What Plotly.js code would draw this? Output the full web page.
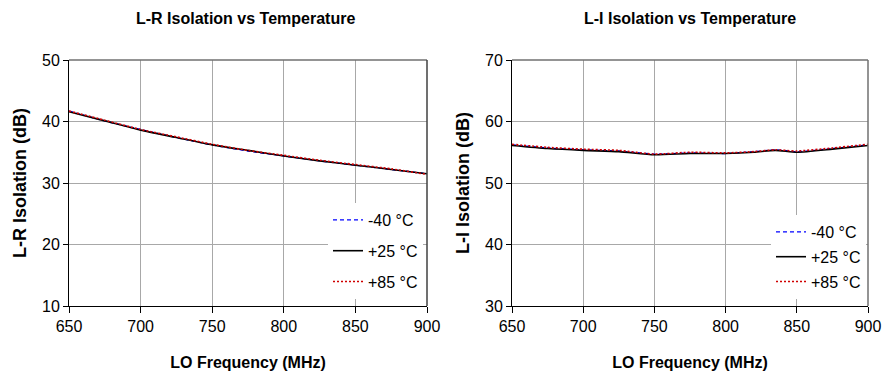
<!DOCTYPE html>
<html>
<head>
<meta charset="utf-8">
<script src="https://cdn.plot.ly/plotly-3.0.1.min.js"></script>
<style>
  html, body { margin: 0; padding: 0; background: #fff; }
  #chart { width: 882px; height: 375px; }
</style>
</head>
<body>
<div id="chart"></div>
<script>
// ---- data ----
const lrFreq = [650, 675, 700, 725, 750, 775, 800, 825, 850, 875, 900];
const lrM40  = [41.7, 40.1, 38.7, 37.4, 36.2, 35.2, 34.4, 33.6, 32.9, 32.2, 31.5];
const lrP25  = [41.6, 40.1, 38.6, 37.4, 36.2, 35.3, 34.4, 33.6, 32.9, 32.2, 31.5];
const lrP85  = [41.7, 40.2, 38.7, 37.5, 36.3, 35.3, 34.5, 33.7, 33.0, 32.3, 31.4];

const liFreq = [650, 675, 700, 725, 750, 775, 800, 820, 835, 850, 875, 900];
const liM40  = [56.2, 55.7, 55.4, 55.2, 54.7, 54.9, 54.8, 55.1, 55.4, 55.1, 55.6, 56.2];
const liP25  = [56.1, 55.6, 55.3, 55.1, 54.6, 54.8, 54.8, 55.0, 55.3, 55.0, 55.5, 56.1];
const liP85  = [56.3, 55.8, 55.5, 55.3, 54.7, 55.0, 54.9, 55.1, 55.4, 55.2, 55.7, 56.3];

const seriesNames = ['-40 °C', '+25 °C', '+85 °C'];
const chartTitles = ['L-R Isolation vs Temperature', 'L-I Isolation vs Temperature'];
const yTitles = ['L-R Isolation (dB)', 'L-I Isolation (dB)'];
const xTitle = 'LO Frequency (MHz)';

// ---- styles ----
const FONT = 'Liberation Sans, Arial, sans-serif';
const styles = [
  {color: '#0000ff', dash: '4px,3px', width: 1.3},
  {color: '#000000', dash: 'solid', width: 1.6},
  {color: '#d00000', dash: '2px,2px', width: 1.6}
];

function mk(x, y, i, xa, ya, leg) {
  return {
    x: x, y: y, type: 'scatter', mode: 'lines', name: seriesNames[i],
    xaxis: xa, yaxis: ya, legend: leg, legendgroup: leg + i,
    line: {color: styles[i].color, dash: styles[i].dash, width: styles[i].width, shape: 'spline', smoothing: 0.6}
  };
}

const traces = [
  mk(lrFreq, lrM40, 0, 'x', 'y', 'legend'),
  mk(lrFreq, lrP25, 1, 'x', 'y', 'legend'),
  mk(lrFreq, lrP85, 2, 'x', 'y', 'legend'),
  mk(liFreq, liM40, 0, 'x2', 'y2', 'legend2'),
  mk(liFreq, liP25, 1, 'x2', 'y2', 'legend2'),
  mk(liFreq, liP85, 2, 'x2', 'y2', 'legend2')
];

const W = 882, H = 375;
const px = v => v / W;
const py = v => (H - v) / H;

function xax(dom, anchor) {
  return {
    domain: dom, anchor: anchor, range: [650, 900], tick0: 650, dtick: 50,
    showgrid: true, gridcolor: '#a8a8a8', gridwidth: 1,
    showline: true, linecolor: '#000', linewidth: 1,
    ticks: 'outside', ticklen: 6, tickcolor: '#000', tickwidth: 1,
    zeroline: false, fixedrange: true, ticklabeloverflow: 'allow',
    tickfont: {family: FONT, size: 16, color: '#000'},
    title: {text: '<b>' + xTitle + '</b>', font: {family: FONT, size: 16, color: '#000'}, standoff: 22}
  };
}
function yax(dom, anchor, rng, t) {
  return {
    domain: dom, anchor: anchor, range: rng, dtick: 10,
    showgrid: true, gridcolor: '#a8a8a8', gridwidth: 1,
    showline: true, linecolor: '#000', linewidth: 1,
    ticks: 'outside', ticklen: 5, tickcolor: '#000', tickwidth: 1,
    zeroline: false, fixedrange: true,
    tickfont: {family: FONT, size: 16, color: '#000'},
    title: {text: '<b>' + t + '</b>', font: {family: FONT, size: 18, color: '#000'}, standoff: 10}
  };
}

const yDom = [py(306), py(60)];
const layout = {
  width: W, height: H,
  margin: {l: 0, r: 0, t: 0, b: 0},
  paper_bgcolor: '#fff', plot_bgcolor: '#fff',
  font: {family: FONT, color: '#000'},
  xaxis: xax([px(69), px(427)], 'y'),
  yaxis: yax(yDom, 'x', [10, 50], yTitles[0]),
  xaxis2: xax([px(512), px(868)], 'y2'),
  yaxis2: yax(yDom, 'x2', [30, 70], yTitles[1]),
  legend: {
    x: px(328), y: py(203), xanchor: 'left', yanchor: 'top',
    bgcolor: '#fff', borderwidth: 0, tracegroupgap: 7,
    font: {family: FONT, size: 16, color: '#000'}
  },
  legend2: {
    x: px(771), y: py(215), xanchor: 'left', yanchor: 'top',
    bgcolor: '#fff', borderwidth: 0, tracegroupgap: 1,
    font: {family: FONT, size: 16, color: '#000'}
  },
  showlegend: true,
  annotations: [
    {text: '<b>' + chartTitles[0] + '</b>', xref: 'paper', yref: 'paper', x: px(246), y: py(18),
     xanchor: 'center', yanchor: 'middle', showarrow: false, font: {family: FONT, size: 16, color: '#000'}},
    {text: '<b>' + chartTitles[1] + '</b>', xref: 'paper', yref: 'paper', x: px(690), y: py(18),
     xanchor: 'center', yanchor: 'middle', showarrow: false, font: {family: FONT, size: 16, color: '#000'}}
  ],
  shapes: [
    {type: 'line', xref: 'x domain', yref: 'y domain', x0: 0, x1: 1, y0: 1, y1: 1, line: {color: '#707070', width: 1.5}},
    {type: 'line', xref: 'x domain', yref: 'y domain', x0: 1, x1: 1, y0: 0, y1: 1, line: {color: '#404040', width: 1.5}},
    {type: 'line', xref: 'x2 domain', yref: 'y2 domain', x0: 0, x1: 1, y0: 1, y1: 1, line: {color: '#707070', width: 1.5}},
    {type: 'line', xref: 'x2 domain', yref: 'y2 domain', x0: 1, x1: 1, y0: 0, y1: 1, line: {color: '#707070', width: 1.5}}
  ]
};

Plotly.newPlot('chart', traces, layout, {displayModeBar: false, staticPlot: true});
</script>
</body>
</html>
